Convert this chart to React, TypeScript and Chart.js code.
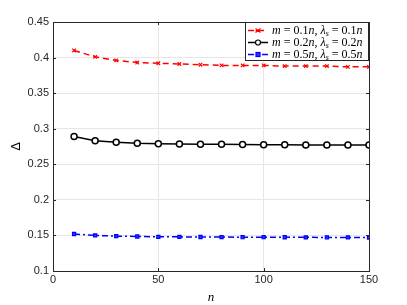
import React, { useEffect, useRef } from "react";
import { Chart, registerables } from "chart.js";
Chart.register(...registerables);

const nValues = [10, 20, 30, 40, 50, 60, 70, 80, 90, 100, 110, 120, 130, 140, 150];
const red01 = [0.41, 0.401, 0.396, 0.393, 0.392, 0.391, 0.390, 0.389, 0.389, 0.389, 0.388, 0.388, 0.388, 0.387, 0.387];
const black02 = [0.289, 0.283, 0.281, 0.2795, 0.279, 0.2785, 0.278, 0.278, 0.2778, 0.2775, 0.2775, 0.2772, 0.277, 0.277, 0.277];
const blue05 = [0.152, 0.150, 0.149, 0.1485, 0.148, 0.148, 0.1478, 0.1477, 0.1475, 0.1475, 0.1474, 0.1473, 0.1472, 0.1472, 0.1471];
const legendFractions = ["0.1", "0.2", "0.5"];
const yTicks = [0.1, 0.15, 0.2, 0.25, 0.3, 0.35, 0.4, 0.45];
const xTicks = [0, 50, 100, 150];

const SERIF = '"Liberation Serif", "DejaVu Serif", serif';
const SANS = '"Liberation Sans", Arial, sans-serif';

const boxPlugin = {
  id: "boxPlugin",
  afterDraw(chart: any) {
    const { ctx, chartArea: a, scales } = chart;
    ctx.save();
    ctx.strokeStyle = "#262626";
    ctx.lineWidth = 1;
    ctx.strokeRect(Math.round(a.left) + 0.5, Math.round(a.top) + 0.5, Math.round(a.right - a.left), Math.round(a.bottom - a.top));
    ctx.beginPath();
    for (const v of yTicks) {
      const y = Math.round(scales.y.getPixelForValue(v)) + 0.5;
      ctx.moveTo(a.left, y); ctx.lineTo(a.left + 3, y);
      ctx.moveTo(a.right, y); ctx.lineTo(a.right - 3, y);
    }
    for (const v of xTicks) {
      const x = Math.round(scales.x.getPixelForValue(v)) + 0.5;
      ctx.moveTo(x, a.bottom); ctx.lineTo(x, a.bottom - 3);
      ctx.moveTo(x, a.top); ctx.lineTo(x, a.top + 3);
    }
    ctx.stroke();

    // legend
    const lx = 245, ly = 22, lw = 124, lh = 39;
    ctx.fillStyle = "#fff";
    ctx.fillRect(lx, ly, lw, lh);
    ctx.strokeStyle = "#262626";
    ctx.strokeRect(lx + 0.5, ly + 0.5, lw - 1, lh - 1);
    const datasets = chart.data.datasets;
    datasets.forEach((ds: any, i: number) => {
      const cy = ly + 8.5 + i * 12;
      ctx.strokeStyle = ds.borderColor;
      ctx.lineWidth = 1.5;
      ctx.setLineDash(ds.borderDash || []);
      ctx.beginPath();
      ctx.moveTo(lx + 3, cy); ctx.lineTo(lx + 23, cy);
      ctx.stroke();
      ctx.setLineDash([]);
      const mx = lx + 13;
      ctx.lineWidth = 1.2;
      if (ds.pointStyle === "circle") {
        ctx.beginPath(); ctx.arc(mx, cy, 2.5, 0, Math.PI * 2);
        ctx.fillStyle = "#fff"; ctx.fill(); ctx.stroke();
      } else if (ds.pointStyle === "rect") {
        ctx.fillStyle = ds.pointBackgroundColor;
        ctx.fillRect(mx - 2, cy - 2, 4, 4);
        ctx.strokeRect(mx - 2, cy - 2, 4, 4);
      } else {
        ctx.beginPath();
        ctx.moveTo(mx - 2.5, cy - 2); ctx.lineTo(mx + 2.5, cy + 2);
        ctx.moveTo(mx - 2.5, cy + 2); ctx.lineTo(mx + 2.5, cy - 2);
        ctx.moveTo(mx - 2.5, cy); ctx.lineTo(mx + 2.5, cy);
        ctx.stroke();
      }
      const f = legendFractions[i];
      const parts: [string, string][] = [
        ["m", "italic"], [" = " + f, "normal"], ["n", "italic"], [", ", "normal"],
        ["λ", "italic"], ["s", "italic-sub"], [" = " + f, "normal"], ["n", "italic"],
      ];
      let tx = lx + 27;
      ctx.fillStyle = "#000";
      ctx.textBaseline = "middle";
      ctx.textAlign = "left";
      for (const [t, st] of parts) {
        if (st === "italic-sub") {
          ctx.font = `italic 8px ${SERIF}`;
          ctx.fillText(t, tx, cy + 3);
        } else {
          ctx.font = `${st === "italic" ? "italic " : ""}12px ${SERIF}`;
          ctx.fillText(t, tx, cy + 0.5);
        }
        tx += ctx.measureText(t).width;
      }
    });
    ctx.restore();
  },
};

export default function App() {
  const ref = useRef<HTMLCanvasElement>(null);
  useEffect(() => {
    document.body.style.margin = "0";
    const chart = new Chart(ref.current!, {
      type: "line",
      data: {
        datasets: [
          {
            label: "m = 0.1n, λs = 0.1n",
            data: nValues.map((x, i) => ({ x, y: red01[i] })),
            borderColor: "#ff0000",
            borderWidth: 1.5,
            borderDash: [6, 4],
            pointStyle: "crossRot",
            pointRadius: 2.5,
            pointBorderColor: "#ff0000",
            pointBorderWidth: 1.2,
            pointBackgroundColor: "#ff0000",
          },
          {
            label: "m = 0.2n, λs = 0.2n",
            data: nValues.map((x, i) => ({ x, y: black02[i] })),
            borderColor: "#000000",
            borderWidth: 1.5,
            pointStyle: "circle",
            pointRadius: 3,
            pointBorderColor: "#000000",
            pointBorderWidth: 1.5,
            pointBackgroundColor: "#ffffff",
          },
          {
            label: "m = 0.5n, λs = 0.5n",
            data: nValues.map((x, i) => ({ x, y: blue05[i] })),
            borderColor: "#0000ff",
            borderWidth: 1.5,
            borderDash: [6, 3, 2, 3],
            pointStyle: "rect",
            pointRadius: 2.2,
            pointBorderColor: "#0000ff",
            pointBorderWidth: 1.2,
            pointBackgroundColor: "#3333ff",
          },
        ],
      },
      options: {
        animation: false,
        responsive: false,
        layout: { padding: { left: 9, right: 38, top: 22, bottom: 0 } },
        plugins: { legend: { display: false }, tooltip: { enabled: false } },
        scales: {
          x: {
            type: "linear",
            min: 0,
            max: 150,
            afterBuildTicks: (s: any) => { s.ticks = xTicks.map((v) => ({ value: v })); },
            afterFit: (s: any) => { s.height = 34; },
            ticks: { color: "#262626", font: { family: SANS, size: 11 }, padding: 2 },
            grid: { color: "#e6e6e6", drawTicks: false },
            border: { display: false },
            title: { display: true, text: "n", font: { family: SERIF, size: 13, style: "italic" }, color: "#000", padding: { top: 0, bottom: 0 } },
          },
          y: {
            min: 0.1,
            max: 0.45,
            afterBuildTicks: (s: any) => { s.ticks = yTicks.map((v) => ({ value: v })); },
            afterFit: (s: any) => { s.width = 44; },
            ticks: {
              color: "#262626",
              font: { family: SANS, size: 11 },
              padding: 4,
              callback: (v: any) => String(Math.round(Number(v) * 100) / 100),
            },
            grid: { color: "#e6e6e6", drawTicks: false },
            border: { display: false },
            title: { display: true, text: "Δ", font: { family: SANS, size: 13 }, color: "#000", padding: { top: 0, bottom: 4 } },
          },
        },
      },
      plugins: [boxPlugin],
    } as any);
    return () => chart.destroy();
  }, []);
  return (
    <div style={{ width: 407, height: 305 }}>
      <canvas ref={ref} width={407} height={305} style={{ display: "block", width: 407, height: 305 }} />
    </div>
  );
}
